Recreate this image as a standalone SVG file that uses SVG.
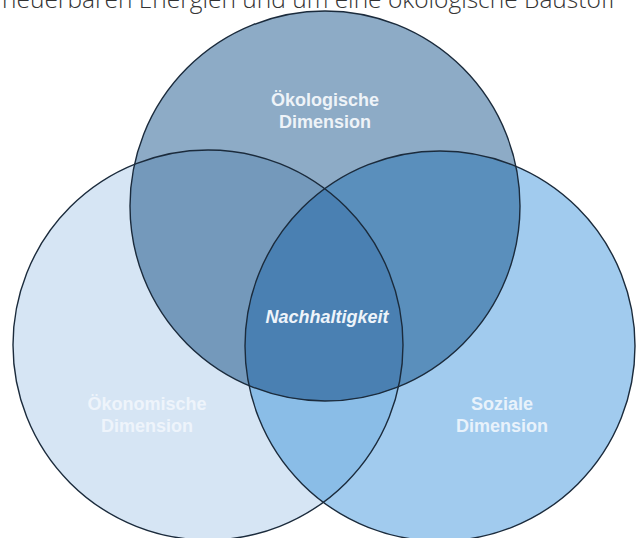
<svg xmlns="http://www.w3.org/2000/svg" width="638" height="538" viewBox="0 0 638 538">
<style>
.lbl{font-family:"Liberation Sans",Arial,sans-serif;font-weight:bold;font-size:18px;text-anchor:middle}
.ring{fill:none;stroke:#1b2b3c;stroke-width:1.4}
.top{font-family:"Open Sans","Noto Sans",sans-serif;font-weight:300;font-size:24.5px;fill:#333}
</style>
<defs>
<clipPath id="cT"><circle cx="325" cy="206" r="195"/></clipPath>
<clipPath id="cL"><circle cx="208" cy="345" r="195"/></clipPath>
<clipPath id="cR"><circle cx="440" cy="346" r="195"/></clipPath>
</defs>
<rect width="638" height="538" fill="#fff"/>
<text class="top" x="2" y="8">neuerbaren Energien und um eine ökologische Baustoff</text>
<g id="oekonomisch">
<circle cx="208" cy="345" r="195" fill="#d6e5f4"/>
</g>
<g id="sozial">
<circle cx="440" cy="346" r="195" fill="#a1cbee"/>
</g>
<g id="oekologisch">
<circle cx="325" cy="206" r="195" fill="#8dabc6"/>
</g>
<g id="overlaps">
<g clip-path="url(#cL)"><circle cx="440" cy="346" r="195" fill="#8abde7"/><circle cx="325" cy="206" r="195" fill="#7499bb"/></g>
<g clip-path="url(#cR)"><circle cx="325" cy="206" r="195" fill="#5a8fbc"/></g>
<g clip-path="url(#cR)"><g clip-path="url(#cL)"><circle cx="325" cy="206" r="195" fill="#4a80b2"/></g></g>
</g>
<g id="rings">
<circle class="ring" cx="208" cy="345" r="195"/>
<circle class="ring" cx="440" cy="346" r="195"/>
<circle class="ring" cx="325" cy="206" r="195"/>
</g>
<g id="labels">
<text class="lbl" x="325" y="106" fill="#eef3f8">Ökologische</text>
<text class="lbl" x="325" y="128" fill="#eef3f8">Dimension</text>
<text class="lbl" x="147" y="410" fill="#eef4fb">Ökonomische</text>
<text class="lbl" x="147" y="432" fill="#eef4fb">Dimension</text>
<text class="lbl" x="502" y="410" fill="#e8f2fb">Soziale</text>
<text class="lbl" x="502" y="432" fill="#e8f2fb">Dimension</text>
<g id="nachhaltigkeit"><text class="lbl" x="327" y="323" fill="#eef4fa" font-style="italic">Nachhaltigkeit</text></g>
</g>
</svg>
